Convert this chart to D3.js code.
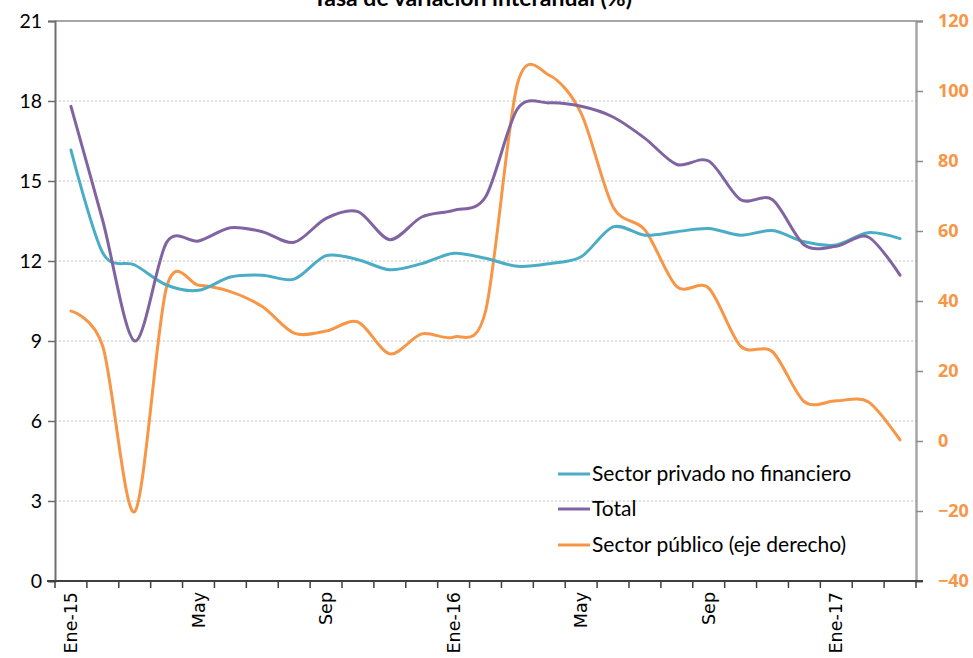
<!DOCTYPE html>
<html>
<head>
<meta charset="utf-8">
<script src="https://cdn.jsdelivr.net/npm/d3@7"></script>
<style>
  html, body { margin: 0; padding: 0; background: #fff; }
  svg { display: block; }
</style>
</head>
<body>
<svg id="chart" width="973" height="658"></svg>
<script>
// ---- data ----
const months = ["Ene-15","Feb","Mar","Abr","May","Jun","Jul","Ago","Sep","Oct","Nov","Dic",
                "Ene-16","Feb","Mar","Abr","May","Jun","Jul","Ago","Sep","Oct","Nov","Dic",
                "Ene-17","Feb","Mar"];
const labelEvery = 4;
const total = [17.8, 13.5, 9.0, 12.7, 12.75, 13.25, 13.1, 12.7, 13.6, 13.85, 12.8, 13.65,
               13.9, 14.4, 17.7, 17.93, 17.8, 17.4, 16.6, 15.62, 15.75, 14.3, 14.3,
               12.6, 12.55, 12.9, 11.47];
const privado = [16.16, 12.3, 11.85, 11.1, 10.9, 11.4, 11.47, 11.32, 12.2, 12.05, 11.67, 11.9,
                 12.29, 12.1, 11.8, 11.9, 12.16, 13.28, 12.97, 13.1, 13.22, 12.97, 13.14,
                 12.72, 12.6, 13.06, 12.84];
const publico = [37.1, 27, -20.2, 44, 44.5, 42.7, 38.4, 30.8, 31.4, 34, 24.9, 30.6,
                 29.7, 37, 102, 104.5, 93.6, 66.9, 60.3, 44.1, 43.7, 27.1, 25.5,
                 11.2, 11.5, 11.2, 0.3];
const leftTicks = [0, 3, 6, 9, 12, 15, 18, 21];
const rightTicks = [-40, -20, 0, 20, 40, 60, 80, 100, 120];
const title = "-Tasa de variación interanual (%) -";
const seriesNames = ["Sector privado no financiero", "Total", "Sector público (eje derecho)"];
const colors = ["#4BACC6", "#8064A2", "#F79646"];

// ---- layout ----
const svg = d3.select("#chart");
const L = 55, R = 916, T = 21, B = 581;
const calib = "Lato, Open Sans, Liberation Sans, sans-serif";

const x = d3.scaleBand().domain(d3.range(months.length)).range([L, R]).paddingInner(0).paddingOuter(0);
const yL = d3.scaleLinear().domain([0, 21]).range([B, T]);
const yR = d3.scaleLinear().domain([-40, 120]).range([B, T]);
const cx = i => x(i) + x.bandwidth() / 2;

// gridlines
svg.append("g").selectAll("line").data(leftTicks.filter(t => t > 0 && t < 21)).join("line")
  .attr("x1", L).attr("x2", R)
  .attr("y1", d => yL(d)).attr("y2", d => yL(d))
  .attr("stroke", "#bfbfbf").attr("stroke-width", 1.2).attr("stroke-dasharray", "2,2");

// plot frame (top)
svg.append("line").attr("x1", L).attr("x2", R).attr("y1", T).attr("y2", T)
  .attr("stroke", "#a6a6a6").attr("stroke-width", 2.2);

// title (partially clipped at top as in reference)
svg.append("text").attr("x", 476).attr("y", 6).attr("text-anchor", "middle")
  .attr("font-family", calib).attr("font-weight", "bold")
  .attr("font-size", 23).attr("fill", "#000").text(title);

// left axis
const gL = svg.append("g").attr("transform", `translate(${L},0)`)
  .call(d3.axisLeft(yL).tickValues(leftTicks).tickSize(7).tickPadding(6).tickFormat(d3.format("d")));
gL.select(".domain").attr("stroke", "#6e6e6e").attr("stroke-width", 2);
gL.selectAll(".tick line").attr("stroke", "#6e6e6e").attr("stroke-width", 1.5);
gL.selectAll(".tick text").attr("font-family", calib)
  .attr("font-size", 19.5).attr("fill", "#000").attr("x", -13);

// right axis
const gR = svg.append("g").attr("transform", `translate(${R},0)`)
  .call(d3.axisRight(yR).tickValues(rightTicks).tickSize(7).tickPadding(15).tickFormat(d3.format("d")));
gR.select(".domain").attr("stroke", "#a6a6a6").attr("stroke-width", 2.5);
gR.selectAll(".tick line").attr("stroke", "#8c8c8c").attr("stroke-width", 1.5);
gR.selectAll(".tick text").attr("font-family", "Open Sans, Liberation Sans, sans-serif")
  .attr("font-weight", "bold").attr("font-size", 18).attr("fill", "#F79646").attr("x", 22);

// bottom axis
const xTickPos = d3.range(months.length + 1).map(i => L + i * x.bandwidth());
const gB = svg.append("g");
gB.append("line").attr("x1", 47).attr("x2", 923).attr("y1", B).attr("y2", B)
  .attr("stroke", "#404040").attr("stroke-width", 2);
gB.selectAll("line.t").data(xTickPos).join("line").attr("class", "t")
  .attr("x1", d => d).attr("x2", d => d).attr("y1", B).attr("y2", B + 7)
  .attr("stroke", "#404040").attr("stroke-width", 1.5);
gB.selectAll("text").data(months.map((m, i) => ({m, i})).filter(d => d.i % labelEvery === 0)).join("text")
  .attr("transform", d => `translate(${cx(d.i) + 6},${B + 11}) rotate(-90)`)
  .attr("text-anchor", "end")
  .attr("font-family", "DejaVu Sans, Verdana, sans-serif").attr("font-size", 17.5).attr("fill", "#000")
  .text(d => d.m);

// lines
const curve = d3.curveCardinal.tension(0.1);
const lineL = d3.line().x((d, i) => cx(i)).y(d => yL(d)).curve(curve);
const lineR = d3.line().x((d, i) => cx(i)).y(d => yR(d)).curve(curve);
svg.append("path").datum(publico).attr("d", lineR).attr("fill", "none")
  .attr("stroke", colors[2]).attr("stroke-width", 3).attr("stroke-linecap", "round");
svg.append("path").datum(privado).attr("d", lineL).attr("fill", "none")
  .attr("stroke", colors[0]).attr("stroke-width", 3).attr("stroke-linecap", "round");
svg.append("path").datum(total).attr("d", lineL).attr("fill", "none")
  .attr("stroke", colors[1]).attr("stroke-width", 3).attr("stroke-linecap", "round");

// legend
const lg = svg.append("g");
const legendY = [474, 509, 545];
seriesNames.forEach((n, k) => {
  lg.append("line").attr("x1", 558).attr("x2", 590).attr("y1", legendY[k]).attr("y2", legendY[k])
    .attr("stroke", colors[k]).attr("stroke-width", 3);
  lg.append("text").attr("x", 592).attr("y", legendY[k] + 7)
    .attr("font-family", calib).attr("font-size", 21)
    .attr("fill", "#000").text(n);
});
</script>
</body>
</html>
